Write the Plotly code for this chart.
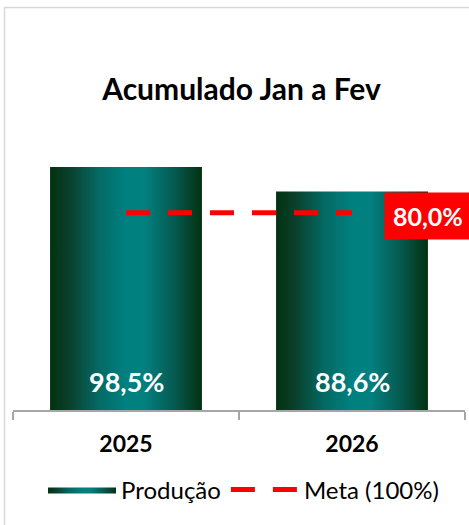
import plotly.graph_objects as go

categories = ["2025", "2026"]
producao = [98.5, 88.6]
meta = [80.0, 80.0]
labels_prod = ["98,5%", "88,6%"]
label_meta = "80,0%"

FONT = "Lato"
W, H = 469, 525
ML, MR, MT, MB = 13, 4, 114, 115
PH = H - MT - MB
half = 0.336

grad = [[0, '#013210'], [0.12, '#0a3f2a'], [0.32, '#046a64'], [0.5, '#008080'],
        [0.62, '#038080'], [0.82, '#055a50'], [1, '#013210']]

fig = go.Figure()
xs = list(range(len(categories)))
for i, v in enumerate(producao):
    fig.add_trace(go.Scatter(
        x=[xs[i] - half, xs[i] + half, xs[i] + half, xs[i] - half, xs[i] - half],
        y=[0, 0, v, v, 0], mode="lines", fill="toself",
        line=dict(width=0, color="rgba(0,0,0,0)"),
        fillcolor="#008080",
        fillgradient=dict(type="horizontal", colorscale=grad),
        name="Produção", legendgroup="p", showlegend=(i == 0),
        hoverinfo="skip"))

fig.add_trace(go.Scatter(
    x=xs, y=meta, mode="lines", name="Meta (100%)",
    line=dict(color="#ff0000", width=5, dash="24px,18px"),
    hoverinfo="skip"))

for i, v in enumerate(producao):
    fig.add_annotation(x=xs[i], y=0, yanchor="bottom", yshift=10, text=f"<b>{labels_prod[i]}</b>",
                       showarrow=False, font=dict(family=FONT, size=27, color="white"))
fig.add_annotation(x=xs[-1], y=meta[-1], xanchor="left", xshift=32, yshift=-3.5,
                   text=f"<b>{label_meta}</b>", showarrow=False, bgcolor="#ff0000",
                   borderpad=8, font=dict(family=FONT, size=25, color="white"))

fig.update_layout(
    width=W, height=H, margin=dict(l=ML, r=MR, t=MT, b=MB, autoexpand=False),
    paper_bgcolor="white", plot_bgcolor="white",
    font=dict(family=FONT, color="black"),
    title=dict(text="<b>Acumulado Jan a Fev</b>", x=0.515, xanchor="center",
               y=1 - 89 / H, yanchor="middle", font=dict(family=FONT, size=30, color="black")),
    xaxis=dict(range=[-0.5, 1.5], tickvals=xs, ticktext=[f"<b>{c}</b>" for c in categories],
               ticks="", showline=False, showgrid=False, zeroline=False, ticklabelstandoff=18,
               tickfont=dict(family=FONT, size=23, color="black"), fixedrange=True),
    xaxis2=dict(range=[-0.5, 1.5], overlaying="x", side="bottom", anchor="y",
                tickvals=[-0.5, 0.5, 1.5], ticks="outside", ticklen=8, tickwidth=2,
                tickcolor="#a6a6a6", showline=True, linecolor="#a6a6a6", linewidth=2,
                showticklabels=False, showgrid=False, zeroline=False),
    yaxis=dict(range=[0, 120], visible=False, fixedrange=True),
    legend=dict(orientation="h", x=0.51, xanchor="center", y=(410 - 490) / PH, yanchor="middle",
                font=dict(family=FONT, size=24, color="black"), itemwidth=68,
                traceorder="normal"),
    shapes=[dict(type="rect", xref="paper", yref="paper", x0=(4.5 - ML) / (W - ML - MR), x1=1.2,
                 y0=-0.6, y1=(410 - 7.5) / PH, line=dict(color="#d9d9d9", width=1.5),
                 layer="below")],
)
fig.add_trace(go.Scatter(x=[0], y=[0], xaxis="x2", mode="markers", marker=dict(opacity=0),
                         showlegend=False, hoverinfo="skip"))

fig.write_html("out.html", config={"displayModeBar": False},
               post_script="document.body.style.margin='0';document.body.style.overflow='hidden';")
